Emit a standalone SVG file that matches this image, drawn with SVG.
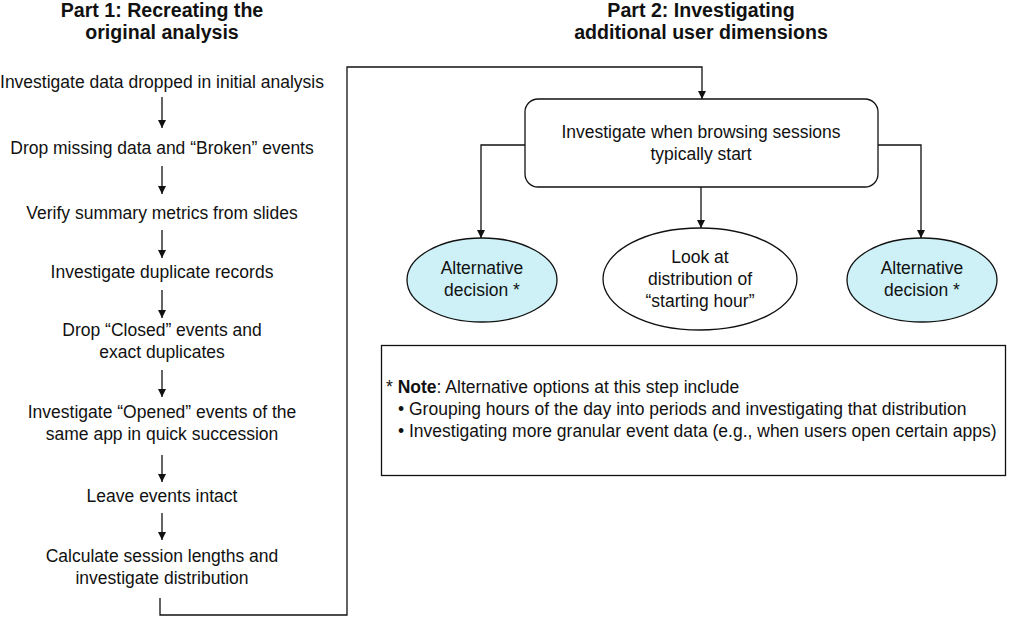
<svg xmlns="http://www.w3.org/2000/svg" width="1009" height="619" viewBox="0 0 1009 619">
<style>
text{font-family:"Liberation Sans",Arial,sans-serif;font-size:17.5px;fill:#111;text-anchor:middle}
.title{font-weight:bold;font-size:19.6px}
.note{text-anchor:start;font-size:17.5px}
.ln{fill:none;stroke:#111;stroke-width:1.3}
.box{fill:#fff;stroke:#111;stroke-width:1.3}
.alt{fill:#cdf1f7;stroke:#111;stroke-width:1.3}
</style>
<defs>
<marker id="ah" viewBox="0 0 10 10" refX="10" refY="5" markerWidth="8" markerHeight="12" markerUnits="userSpaceOnUse" orient="auto">
<path d="M0,0 L10,5 L0,10 z" fill="#111"/>
</marker>
</defs>
<rect width="1009" height="619" fill="#fff"/>
<g id="title1"><text class="title" x="162" y="17">Part 1: Recreating the</text><text class="title" x="162" y="39">original analysis</text></g>
<g id="title2"><text class="title" x="701" y="17">Part 2: Investigating</text><text class="title" x="701" y="39">additional user dimensions</text></g>
<g id="s1"><text x="162" y="88">Investigate data dropped in initial analysis</text></g>
<g id="s2"><text x="162" y="154">Drop missing data and “Broken” events</text></g>
<g id="s3"><text x="162" y="219">Verify summary metrics from slides</text></g>
<g id="s4"><text x="162" y="278">Investigate duplicate records</text></g>
<g id="s5"><text x="162" y="336">Drop “Closed” events and</text><text x="162" y="358">exact duplicates</text></g>
<g id="s6"><text x="162" y="418">Investigate “Opened” events of the</text><text x="162" y="440">same app in quick succession</text></g>
<g id="s7"><text x="162" y="502">Leave events intact</text></g>
<g id="s8"><text x="162" y="562">Calculate session lengths and</text><text x="162" y="584">investigate distribution</text></g>
<g id="p2main"><rect class="box" x="525" y="99" width="353" height="88" rx="13"/><text x="701" y="138">Investigate when browsing sessions</text><text x="701" y="160">typically start</text></g>
<g id="altL"><ellipse class="alt" cx="482" cy="280" rx="75" ry="42"/><text x="482" y="274">Alternative</text><text x="482" y="296">decision *</text></g>
<g id="look"><ellipse class="box" cx="700" cy="279" rx="97" ry="51"/><text x="700" y="263">Look at</text><text x="700" y="285">distribution of</text><text x="700" y="307">“starting hour”</text></g>
<g id="altR"><ellipse class="alt" cx="922" cy="280" rx="75" ry="42"/><text x="922" y="274">Alternative</text><text x="922" y="296">decision *</text></g>
<g id="note"><rect class="box" x="381.5" y="345.5" width="624" height="130"/>
<text class="note" x="386" y="393">* <tspan font-weight="bold">Note</tspan>: Alternative options at this step include</text>
<text class="note" x="398" y="415">• Grouping hours of the day into periods and investigating that distribution</text>
<text class="note" x="398" y="437">• Investigating more granular event data (e.g., when users open certain apps)</text></g>
<g id="connectors">
<path class="ln" marker-end="url(#ah)" d="M162,97 V128"/>
<path class="ln" marker-end="url(#ah)" d="M162,166 V194"/>
<path class="ln" marker-end="url(#ah)" d="M162,230 V258"/>
<path class="ln" marker-end="url(#ah)" d="M162,290 V318"/>
<path class="ln" marker-end="url(#ah)" d="M162,370 V397"/>
<path class="ln" marker-end="url(#ah)" d="M162,455 V482"/>
<path class="ln" marker-end="url(#ah)" d="M162,513 V540"/>
<path class="ln" marker-end="url(#ah)" d="M160,598 V615 H347 V67 H702 V99"/>
<path class="ln" marker-end="url(#ah)" d="M525,145 H481 V238"/>
<path class="ln" marker-end="url(#ah)" d="M701,187 V228"/>
<path class="ln" marker-end="url(#ah)" d="M878,145 H921 V238"/>
</g>
</svg>
